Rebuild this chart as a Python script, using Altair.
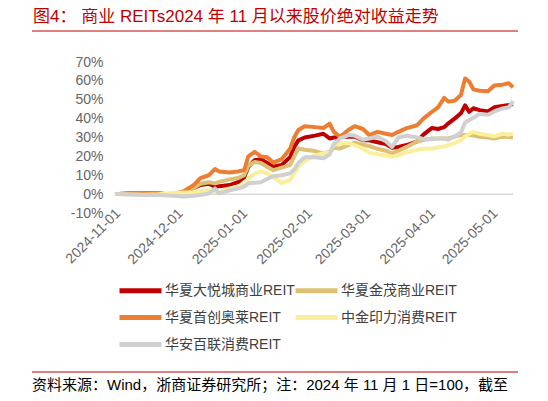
import pandas as pd
import altair as alt

dates = [
    "2024-11-01", "2024-11-08", "2024-11-15", "2024-11-22", "2024-11-29",
    "2024-12-04", "2024-12-09", "2024-12-12", "2024-12-16", "2024-12-19",
    "2024-12-21", "2024-12-26", "2024-12-30", "2025-01-02", "2025-01-04",
    "2025-01-07", "2025-01-10", "2025-01-13", "2025-01-16", "2025-01-20",
    "2025-01-24", "2025-01-26", "2025-01-28", "2025-01-31", "2025-02-05",
    "2025-02-09", "2025-02-12", "2025-02-14", "2025-02-17", "2025-02-21",
    "2025-02-24", "2025-02-28", "2025-03-03", "2025-03-07", "2025-03-11",
    "2025-03-14", "2025-03-17", "2025-03-21", "2025-03-26", "2025-03-29",
    "2025-04-02", "2025-04-05", "2025-04-08", "2025-04-10", "2025-04-13",
    "2025-04-16", "2025-04-18", "2025-04-20", "2025-04-22", "2025-04-25",
    "2025-04-29", "2025-05-02", "2025-05-06", "2025-05-09", "2025-05-11",
]

# absolute return, %
dayuecheng = [
    0, 0.5, 0.5, 0.3, -0.3, 0.8, 3.5, 4.8, 5.5, 4.0,
    4.2, 4.8, 6.3, 9.0, 14.5, 18.0, 18.5, 16.5, 14.5, 15.5,
    19.5, 25.0, 28.5, 30.0, 31.0, 32.0, 29.5, 30.0, 30.2, 30.4,
    30.4, 28.6, 28.5, 27.5, 26.5, 24.5, 25.0, 26.0, 28.0, 31.5,
    35.0, 34.5, 35.5, 37.5, 40.0, 42.8, 47.0, 43.6, 45.5, 44.5,
    43.8, 46.0, 46.7, 47.2, 47.7,
]
jinmao = [
    0, 0.3, 0.3, 0, 0.3, 1.5, 3.5, 5.5, 6.3, 5.7,
    6.5, 7.8, 8.5, 10.0, 15.0, 17.0, 16.5, 14.5, 12.7, 14.0,
    15.4, 20.0, 24.2, 23.5, 22.8, 21.6, 22.5, 24.5, 24.2, 26.0,
    27.3, 26.2, 25.5, 24.0, 23.0, 21.6, 23.0, 25.0, 28.0, 28.6,
    29.5, 29.5, 29.5, 29.5, 30.5, 31.3, 31.3, 31.3, 31.0, 30.4,
    30.0, 29.5, 30.5, 30.2, 30.0,
]
aolai = [
    0, 0.2, 0.3, 0.5, -0.5, 1.5, 5.0, 8.5, 10.0, 13.3,
    12.0, 11.5, 12.0, 12.7, 20.0, 22.4, 20.0, 19.5, 16.7, 18.5,
    24.0, 30.0, 34.0, 36.0, 35.5, 35.0, 37.3, 33.0, 30.4, 34.0,
    36.0, 34.5, 31.3, 33.0, 32.0, 31.3, 33.0, 35.0, 36.5, 40.0,
    43.5, 46.0, 51.0, 49.0, 49.5, 52.5, 61.3, 59.5, 55.5, 54.8,
    54.5, 57.5, 58.0, 58.7, 56.6,
]
yinli = [
    0, -0.2, -0.3, 0, 0.5, 0.8, 1.0, 1.5, 2.0, 1.5,
    1.0, 3.0, 4.0, 4.8, 8.0, 11.0, 12.0, 11.0, 9.0, 5.8,
    7.5, 11.0, 14.5, 17.5, 20.5, 21.6, 22.0, 26.0, 27.0, 27.0,
    26.0, 24.0, 22.0, 21.2, 20.5, 19.8, 20.5, 22.2, 23.5, 24.2,
    24.0, 24.8, 25.2, 26.0, 27.0, 28.6, 30.5, 32.0, 33.0, 32.0,
    31.3, 30.6, 32.0, 31.5, 32.0,
]
bailian = [
    0, -0.2, -0.4, -0.5, -0.8, -1.2, -0.8, -0.5, 0.3, 3.0,
    0.4, 2.0, 3.0, 4.0, 5.7, 6.0, 6.3, 8.0, 9.5, 10.0,
    11.0, 13.0, 16.5, 19.5, 19.5, 19.0, 21.0, 26.5, 29.5, 31.3,
    31.0, 28.8, 29.5, 30.4, 28.0, 25.0, 30.0, 31.0, 30.0, 29.2,
    29.0, 29.5, 29.5, 28.8, 30.5, 32.5, 38.0, 39.2, 40.5, 42.5,
    42.0, 43.8, 45.4, 46.0, 49.3,
]

# drawing order (last on top)
series_names = [
    "华夏大悦城商业REIT", "华夏金茂商业REIT", "华夏首创奥莱REIT",
    "中金印力消费REIT", "华安百联消费REIT",
]
series_values = [dayuecheng, jinmao, aolai, yinli, bailian]
series_colors = ["#C00000", "#DCC074", "#ED7D31", "#FAF09C", "#D0D0D0"]
# legend fills column by column, so list column 1 first
legend_order = [0, 2, 4, 1, 3]

y_ticks = [-10, 0, 10, 20, 30, 40, 50, 60, 70]
month_ticks = [(2024, 11), (2024, 12), (2025, 1), (2025, 2), (2025, 3), (2025, 4), (2025, 5)]

title_text = "图4： 商业 REITs2024 年 11 月以来股价绝对收益走势"
note_text = "资料来源：Wind，浙商证券研究所；注：2024 年 11 月 1 日=100，截至"

FONT = "Liberation Sans, Noto Sans CJK SC"
RED = "#C00000"

df = pd.concat(
    [pd.DataFrame({"date": dates, "value": v, "name": n}) for n, v in zip(series_names, series_values)],
    ignore_index=True,
)

x_enc = alt.X(
    "date:T",
    scale=alt.Scale(
        type="utc",
        domain=[alt.DateTime(year=2024, month=11, date=1, utc=True),
                alt.DateTime(year=2025, month=5, date=11, utc=True)],
    ),
    axis=alt.Axis(
        title=None, grid=False, domain=False, ticks=False,
        values=[alt.DateTime(year=y, month=m, date=1, utc=True) for y, m in month_ticks],
        labelExpr="utcFormat(datum.value, '%Y-%m-%d')",
        labelAngle=-45, labelAlign="right", labelBaseline="top",
        labelPadding=-7, labelOffset=-2, labelFontSize=14, labelColor="#666666",
        labelFont=FONT, labelOverlap=False, labelFlush=False,
    ),
)
y_enc = alt.Y(
    "value:Q",
    scale=alt.Scale(domain=[-10, 70], nice=False),
    axis=alt.Axis(
        title=None, grid=False, domain=False, ticks=False, values=y_ticks,
        labelExpr="datum.value + '%'", labelPadding=12, labelFontSize=14,
        labelColor="#666666", labelFont=FONT, labelOverlap=False, labelBound=False,
    ),
)
color_enc = alt.Color(
    "name:N",
    scale=alt.Scale(
        domain=[series_names[i] for i in legend_order],
        range=[series_colors[i] for i in legend_order],
    ),
    legend=alt.Legend(
        title=None, orient="none", legendX=13, legendY=216, columns=2,
        symbolType="M-2.1,0H2.1", symbolSize=400, symbolStrokeWidth=5,
        labelFontSize=14, labelFont=FONT, labelColor="#404040",
        labelOffset=12, columnPadding=-10, rowPadding=4, padding=0,
    ),
)

lines = [
    alt.Chart(df)
    .transform_filter(alt.datum.name == n)
    .mark_line(strokeWidth=4, strokeJoin="round")
    .encode(x=x_enc, y=y_enc, color=color_enc)
    for n in series_names
]

# 0% baseline uses the same y encoding so the axes merge cleanly
zero_line = alt.Chart(pd.DataFrame({"value": [0]})).mark_rule(color="#D9D9D9", strokeWidth=1.5).encode(y=y_enc)

one = pd.DataFrame({"t": [title_text], "n": [note_text]})
title = alt.Chart(one).mark_text(
    align="left", baseline="middle", fontSize=17, font=FONT, color=RED
).encode(text="t:N", x=alt.value(-82), y=alt.value(-45))
title_rule = alt.Chart(one).mark_rule(color=RED, strokeWidth=1).encode(
    x=alt.value(-83), x2=alt.value(403), y=alt.value(-31)
)
foot_rule = alt.Chart(one).mark_rule(color=RED, strokeWidth=1).encode(
    x=alt.value(-83), x2=alt.value(403), y=alt.value(310)
)
note = alt.Chart(one).mark_text(
    align="left", baseline="middle", fontSize=15, font=FONT, color="#000000"
).encode(text="n:N", x=alt.value(-83), y=alt.value(323))

chart = (
    alt.layer(lines[0], zero_line, *lines[1:], title, title_rule, foot_rule, note)
    .properties(
        width=398, height=151,
        autosize=alt.AutoSizeParams(type="none"),
        padding={"left": 107, "top": 54, "right": 25, "bottom": 180},
    )
    .configure_view(stroke=None)
)

chart.save("out.html", embed_options={"renderer": "svg", "actions": False})
